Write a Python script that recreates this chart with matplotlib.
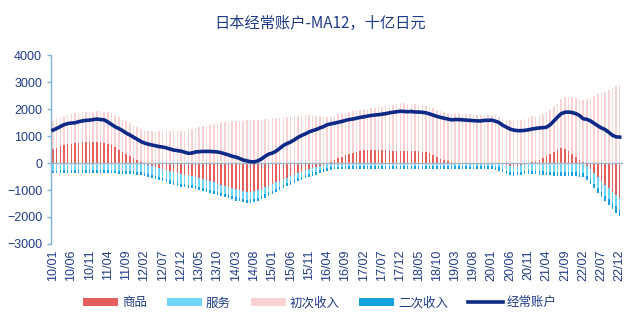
#!/usr/bin/env python3

import matplotlib
matplotlib.use('Agg')
import matplotlib.pyplot as plt
import numpy as np

plt.rcParams['font.family'] = ['Noto Sans CJK SC', 'DejaVu Sans']

# monthly MA12 values, 2010/01 - 2022/12, billion yen
goods = [
    520, 570, 620, 660, 700, 720, 740, 760, 770, 780, 780, 780,
    780, 770, 750, 720, 660, 580, 500, 420, 340, 260, 180, 100,
    30, -40, -80, -120, -160, -190, -220, -260, -300, -340, -380, -420,
    -440, -460, -490, -520, -560, -600, -640, -680, -720, -760, -800, -840,
    -880, -920, -960, -1000, -1040, -1070, -1070, -1050, -1010, -960, -900, -840,
    -780, -720, -660, -600, -540, -480, -420, -370, -320, -270, -230, -190,
    -160, -120, -80, -30, 30, 100, 170, 230, 290, 340, 380, 420,
    450, 470, 480, 480, 480, 480, 470, 470, 460, 460, 460, 460,
    460, 450, 450, 440, 430, 420, 400, 360, 300, 230, 160, 100,
    60, 30, 10, 0, -10, -10, -20, -20, -10, -10, 0, 0,
    0, 10, -10, -50, -90, -120, -120, -100, -70, -40, 0, 40,
    80, 130, 190, 260, 330, 400, 470, 540, 520, 450, 350, 230,
    120, 20, -100, -230, -370, -520, -660, -800, -930, -1060, -1180, -1300,
]
services = [
    -280, -280, -270, -270, -270, -260, -260, -260, -260, -260, -260, -260,
    -260, -260, -270, -270, -280, -280, -290, -290, -300, -300, -310, -320,
    -330, -330, -330, -330, -330, -340, -340, -340, -340, -340, -340, -340,
    -340, -340, -330, -330, -330, -320, -320, -320, -310, -310, -310, -300,
    -300, -300, -300, -290, -290, -290, -280, -280, -270, -260, -260, -250,
    -250, -240, -230, -220, -210, -200, -200, -190, -180, -180, -170, -160,
    -160, -150, -150, -140, -140, -130, -130, -130, -120, -120, -120, -120,
    -120, -120, -120, -120, -120, -120, -120, -120, -120, -120, -120, -120,
    -120, -120, -120, -120, -110, -110, -110, -110, -110, -110, -110, -110,
    -110, -110, -110, -110, -110, -110, -110, -110, -110, -110, -110, -120,
    -120, -130, -150, -170, -190, -210, -230, -240, -250, -260, -270, -280,
    -290, -300, -310, -320, -330, -340, -350, -350, -350, -350, -350, -350,
    -360, -370, -380, -380, -390, -400, -400, -410, -420, -420, -430, -430,
]
primary = [
    1040, 1050, 1060, 1070, 1080, 1090, 1100, 1100, 1110, 1110, 1120, 1120,
    1130, 1140, 1150, 1170, 1180, 1190, 1200, 1210, 1230, 1230, 1240, 1240,
    1240, 1220, 1200, 1190, 1180, 1180, 1180, 1180, 1170, 1170, 1170, 1180,
    1200, 1230, 1260, 1290, 1330, 1360, 1390, 1420, 1450, 1500, 1510, 1520,
    1530, 1540, 1550, 1560, 1570, 1580, 1580, 1590, 1600, 1610, 1620, 1640,
    1660, 1680, 1700, 1710, 1720, 1740, 1750, 1760, 1770, 1780, 1780, 1780,
    1760, 1740, 1720, 1700, 1680, 1660, 1630, 1600, 1570, 1550, 1540, 1530,
    1530, 1530, 1540, 1550, 1560, 1580, 1600, 1630, 1660, 1690, 1720, 1760,
    1760, 1750, 1740, 1730, 1720, 1720, 1720, 1720, 1730, 1730, 1750, 1780,
    1800, 1820, 1840, 1840, 1830, 1820, 1800, 1790, 1790, 1790, 1790, 1790,
    1780, 1760, 1720, 1680, 1640, 1600, 1580, 1580, 1600, 1630, 1680, 1700,
    1680, 1640, 1610, 1610, 1640, 1700, 1760, 1830, 1920, 2000, 2080, 2180,
    2260, 2300, 2360, 2420, 2480, 2540, 2590, 2650, 2710, 2780, 2840, 2890,
]
secondary = [
    -100, -100, -100, -100, -100, -100, -100, -100, -100, -100, -100, -100,
    -100, -100, -100, -100, -100, -100, -100, -100, -110, -110, -110, -110,
    -110, -110, -110, -110, -110, -110, -120, -120, -120, -120, -120, -120,
    -120, -120, -120, -120, -120, -120, -120, -120, -120, -120, -120, -120,
    -130, -130, -130, -130, -130, -130, -130, -130, -130, -130, -130, -130,
    -120, -120, -120, -120, -120, -120, -120, -120, -120, -120, -120, -120,
    -110, -110, -110, -110, -110, -110, -110, -110, -110, -110, -110, -110,
    -110, -110, -110, -110, -110, -110, -110, -110, -110, -110, -110, -110,
    -110, -110, -110, -110, -110, -110, -110, -110, -110, -110, -110, -110,
    -110, -110, -110, -110, -110, -110, -110, -110, -110, -110, -110, -110,
    -120, -120, -120, -120, -120, -120, -120, -120, -120, -120, -120, -120,
    -130, -130, -130, -130, -130, -130, -130, -130, -130, -130, -130, -130,
    -140, -150, -160, -170, -180, -190, -200, -210, -220, -230, -230, -230,
]
current = [
    1220, 1280, 1350, 1420, 1460, 1480, 1490, 1530, 1560, 1580, 1590, 1610,
    1630, 1610, 1600, 1520, 1430, 1340, 1280, 1200, 1110, 1040, 960, 880,
    800, 740, 700, 670, 640, 610, 590, 560, 520, 480, 460, 440,
    400, 360, 370, 410, 420, 430, 430, 430, 420, 410, 380, 340,
    300, 250, 220, 170, 110, 80, 50, 40, 80, 150, 250, 330,
    370, 440, 540, 650, 720, 780, 860, 950, 1020, 1080, 1150, 1200,
    1240, 1300, 1350, 1420, 1450, 1480, 1510, 1540, 1580, 1610, 1630, 1660,
    1690, 1710, 1740, 1760, 1780, 1790, 1810, 1830, 1860, 1880, 1900, 1920,
    1910, 1900, 1910, 1890, 1890, 1880, 1860, 1820, 1770, 1730, 1690, 1660,
    1630, 1600, 1610, 1610, 1600, 1590, 1580, 1570, 1560, 1560, 1580, 1580,
    1590, 1550, 1500, 1400, 1330, 1260, 1220, 1200, 1200, 1210, 1230, 1260,
    1280, 1300, 1310, 1330, 1420, 1560, 1700, 1830, 1880, 1890, 1870, 1830,
    1760, 1640, 1620, 1560, 1470, 1380, 1300, 1240, 1140, 1030, 970, 960,
]

months = ['%02d/%02d' % (y % 100, m) for y in range(2010, 2023) for m in range(1, 13)]

series = [
    ('商品', goods, '#E5605C'),
    ('服务', services, '#6FD6F7'),
    ('初次收入', primary, '#F9D3D3'),
    ('二次收入', secondary, '#16A2E0'),
]

navy = '#1F3C88'

fig = plt.figure(figsize=(6.4, 3.24), dpi=100)
ax = fig.add_axes([0.080, 0.247, 0.894, 0.583])

x = np.arange(len(months))
pos_base = np.zeros(len(x))
neg_base = np.zeros(len(x))
for name, vals, color in series:
    v = np.array(vals, dtype=float)
    base = np.where(v >= 0, pos_base, neg_base)
    ax.bar(x, v, bottom=base, width=0.42, color=color, label=name, linewidth=0)
    pos_base += np.where(v >= 0, v, 0)
    neg_base += np.where(v < 0, v, 0)

ax.axhline(0, color='#9FB6CC', lw=1.0, zorder=1)
ax.plot(x, current, color='#0C2A86', lw=2.6, label='经常账户', zorder=5)

ax.set_xlim(-0.5, 156)
ax.set_ylim(-3000, 4000)
ax.set_yticks(np.arange(-3000, 4001, 1000))
ax.set_xticks(x[::5])
ax.set_xticklabels(months[::5], rotation=90, fontsize=9, color=navy,
                   family=['Liberation Sans', 'DejaVu Sans'])
ax.tick_params(axis='x', length=0, pad=4)
ax.tick_params(axis='y', labelsize=9, labelcolor=navy, color='#7FB2DD',
               length=3, width=1)
for lab in ax.get_yticklabels():
    lab.set_family(['Liberation Sans', 'DejaVu Sans'])

for s in ['top', 'right', 'bottom']:
    ax.spines[s].set_visible(False)
ax.spines['left'].set_color('#7FB2DD')
ax.spines['left'].set_linewidth(1.0)

fig.suptitle('日本经常账户-MA12，十亿日元', y=0.955, fontsize=11, color=navy)

handles, labels = ax.get_legend_handles_labels()
order = [1, 2, 3, 4, 0]
fig.legend([handles[i] for i in order], [labels[i] for i in order],
           loc='center', bbox_to_anchor=(0.5, 0.065), ncol=5, frameon=False,
           fontsize=9, handlelength=2.8, handleheight=0.5, columnspacing=1.6,
           handletextpad=0.3, labelcolor=navy)

fig.savefig('out.png', dpi=100)
